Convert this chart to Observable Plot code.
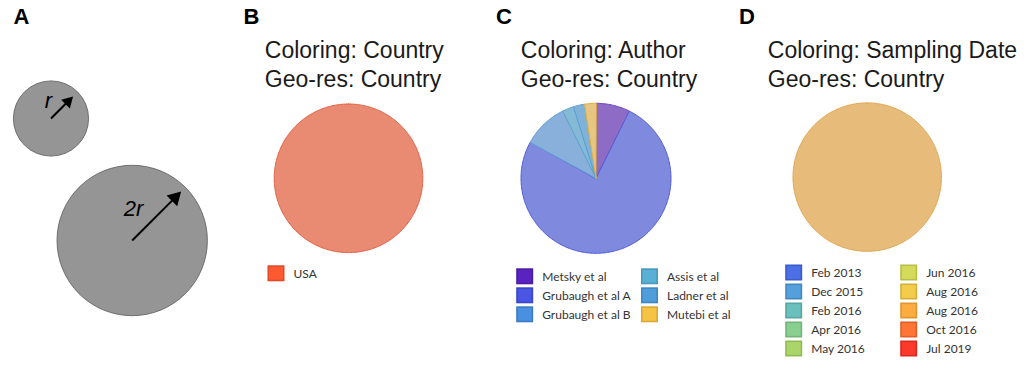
<!DOCTYPE html>
<html><head><meta charset="utf-8">
<script src="https://cdn.jsdelivr.net/npm/d3@7"></script>
<script src="https://cdn.jsdelivr.net/npm/@observablehq/plot@0.6"></script>
<style>html,body{margin:0;padding:0;background:#fff}</style>
</head><body><div id="chart"></div>
<script>
// ---------- data ----------
const panelLabels = ["A", "B", "C", "D"];
const circleSizes = [1, 2];
const circleLabels = ["r", "2r"];
const titleLines1 = ["Coloring: Country", "Coloring: Author", "Coloring: Sampling Date"];
const titleLines2 = ["Geo-res: Country", "Geo-res: Country", "Geo-res: Country"];
const countries = ["USA"];
const countryCounts = [1];
const authors = ["Metsky et al", "Grubaugh et al A", "Grubaugh et al B", "Assis et al", "Ladner et al", "Mutebi et al"];
const authorCounts = [3, 31, 4, 1, 1, 1];
const dates = ["Feb 2013", "Dec 2015", "Feb 2016", "Apr 2016", "May 2016", "Jun 2016", "Aug 2016", "Aug 2016", "Oct 2016", "Jul 2019"];
const dateCounts = [0, 0, 0, 0, 0, 0, 0, 1, 0, 0];

// ---------- styles ----------
const countrySwatch = ["#fd5a32"], countrySwatchStroke = ["#e0482a"];
const countryPie = ["#e98a72"], countryPieStroke = ["#e26142"];
const authorSwatch = ["#5a22bf", "#4856e3", "#4a90e0", "#5aafd5", "#4f9ddb", "#f6c445"];
const authorSwatchStroke = ["#4a1aa6", "#3a45c8", "#3a7cc8", "#4898bf", "#3e88c2", "#dca934"];
const authorPie = ["#8e6cc6", "#7f8adf", "#88b0da", "#84bad6", "#80b1d9", "#e7c684"];
const authorPieStroke = ["#6a45c2", "#4e5ad6", "#5f9bd6", "#5aa6cc", "#5a9ed4", "#e0b040"];
const dateSwatch = ["#4c6fe6", "#55a0dc", "#6cc0bb", "#88cf90", "#aad56a", "#d4da5a", "#f2cc4a", "#fdac40", "#ff7535", "#fb3a2c"];
const dateSwatchStroke = ["#3b5bcc", "#4388c2", "#58a6a1", "#70b678", "#90bb52", "#b9bf45", "#d6b036", "#e0942e", "#e05e25", "#d82a20"];
const datePie = dateSwatch.map(() => "#e7bc7b");
const datePieStroke = dateSwatch.map(() => "#e3a54f");

const W = 1028, H = 371;

// ---------- pies ----------
function piePoints(panel, counts, fills, strokes, cx, cy, R) {
  const arcs = d3.pie().sort(null).value(d => d)(counts);
  const pts = [];
  arcs.forEach((a, i) => {
    const span = a.endAngle - a.startAngle;
    if (span <= 0) return;
    const full = span >= 2 * Math.PI - 1e-6;
    const n = Math.max(2, Math.ceil(span / (Math.PI / 180)));
    const key = panel + "-" + i;
    const base = {key, fill: fills[i], stroke: strokes[i]};
    if (!full) pts.push({...base, x: cx, y: cy});
    for (let k = 0; k <= n; k++) {
      const t = a.startAngle + span * k / n;
      pts.push({...base, x: cx + R * Math.sin(t), y: cy - R * Math.cos(t)});
    }
  });
  return pts;
}
const pies = [
  ...piePoints("B", countryCounts, countryPie, countryPieStroke, 348, 177.8, 74.3),
  ...piePoints("C", authorCounts, authorPie, authorPieStroke, 595.5, 177.8, 75),
  ...piePoints("D", dateCounts, datePie, datePieStroke, 866.7, 176.6, 74.2)
];

// ---------- legends ----------
function legendItems(labels, fills, strokes, x0, y0, perCol, colGap) {
  return labels.map((label, i) => {
    const col = Math.floor(i / perCol), row = i % perCol;
    const x = x0 + col * colGap, y = y0 + row * 19;
    return {label, fill: fills[i], stroke: strokes[i], x1: x + 0.8, x2: x + 16.2, y1: y - 7.2, y2: y + 7.2, tx: x + 25.5, ty: y};
  });
}
const legend = [
  ...legendItems(countries, countrySwatch, countrySwatchStroke, 267.5, 273.3, 1, 0),
  ...legendItems(authors, authorSwatch, authorSwatchStroke, 516.2, 276.3, 3, 124.8),
  ...legendItems(dates, dateSwatch, dateSwatchStroke, 785.2, 272.5, 5, 115)
];

// ---------- panel A ----------
const circleCenters = [[50.5, 118], [131.7, 240]];
const circles = circleSizes.map((s, i) => ({size: s, label: circleLabels[i], cx: circleCenters[i][0], cy: circleCenters[i][1]}));
const unitR = 37.6;
const u = Math.SQRT1_2;
const headR = [4.6, 5.6];
const arrows = circles.map((c, i) => {
  const R = c.size * unitR;
  const tip = R * (i === 0 ? 0.83 : 0.92);
  const hy = Math.sqrt(Math.PI * headR[i] ** 2 / (Math.sqrt(3) * 3));
  const hc = tip - 2 * hy;          // head centroid distance
  const hb = tip - 3 * hy + 1;      // head base distance
  return {x1: c.cx, y1: c.cy, x2: c.cx + hb * u, y2: c.cy - hb * u, hx: c.cx + hc * u, hy: c.cy - hc * u};
});
const circleTextPos = [[48, 100], [133, 208]];

const panelLabelPos = [21, 251, 503.5, 746.5];
const titleX = [264.3, 520.3, 767.3];
const sans = "Liberation Sans, Arial, sans-serif";

const chart = Plot.plot({
  width: W, height: H,
  margin: 0,
  x: {domain: [0, W], range: [0, W], axis: null},
  y: {domain: [0, H], range: [0, H], axis: null},
  r: {type: "linear", domain: [0, 2], range: [0, 2 * unitR]},
  color: {type: "identity"},
  style: {background: "#fff", overflow: "visible"},
  marks: [
    // panel A
    Plot.dot(circles, {x: "cx", y: "cy", r: "size", fill: "#959595", stroke: "#5a5a5a", strokeWidth: 0.8}),
    Plot.link(arrows, {x1: "x1", y1: "y1", x2: "x2", y2: "y2", stroke: "#000", strokeWidth: 2}),
    Plot.dot(arrows.slice(0, 1), {x: "hx", y: "hy", r: headR[0], symbol: "triangle", rotate: 45, fill: "#000", stroke: "none"}),
    Plot.dot(arrows.slice(1, 2), {x: "hx", y: "hy", r: headR[1], symbol: "triangle", rotate: 45, fill: "#000", stroke: "none"}),
    Plot.text(circles, {x: (d, i) => circleTextPos[i][0], y: (d, i) => circleTextPos[i][1], text: "label", fontSize: 22, fontStyle: "italic", fontFamily: sans, fill: "#000"}),
    // pies
    Plot.line(pies, {x: "x", y: "y", z: "key", fill: "fill", stroke: "stroke", strokeWidth: 1, curve: "linear-closed"}),
    // legends
    Plot.rect(legend, {x1: "x1", x2: "x2", y1: "y1", y2: "y2", fill: "fill", stroke: "stroke", strokeWidth: 1.6}),
    Plot.text(legend, {x: "tx", y: "ty", text: "label", textAnchor: "start", fontSize: 12, fontFamily: "Lato, sans-serif", fill: "#333"}),
    // titles
    Plot.text(titleLines1, {x: (d, i) => titleX[i], y: () => 49.8, text: d => d, textAnchor: "start", fontSize: 23, fontFamily: sans, fill: "#1a1a1a"}),
    Plot.text(titleLines2, {x: (d, i) => titleX[i], y: () => 79.2, text: d => d, textAnchor: "start", fontSize: 23, fontFamily: sans, fill: "#1a1a1a"}),
    // panel labels
    Plot.text(panelLabels, {x: (d, i) => panelLabelPos[i], y: () => 16, text: d => d, fontSize: 22, fontWeight: "bold", fontFamily: sans, fill: "#000"})
  ]
});
document.getElementById("chart").append(chart);
</script>
</body></html>
